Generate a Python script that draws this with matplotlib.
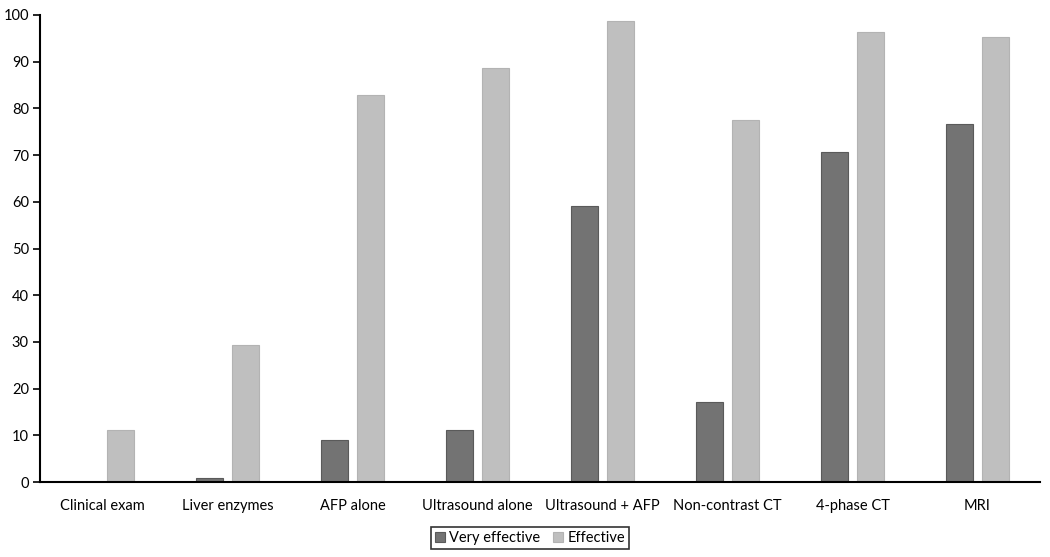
import matplotlib
matplotlib.use("Agg")
import matplotlib.pyplot as plt
import numpy as np

plt.rcParams['font.family'] = ['Lato', 'DejaVu Sans']

categories = ["Clinical exam", "Liver enzymes", "AFP alone", "Ultrasound alone",
              "Ultrasound + AFP", "Non-contrast CT", "4-phase CT", "MRI"]
very_effective = [0, 0.9, 8.9, 11.1, 59.0, 17.2, 70.7, 76.6]
effective = [11.1, 29.3, 82.8, 88.6, 98.8, 77.5, 96.4, 95.2]
series_names = ["Very effective", "Effective"]

fig = plt.figure(figsize=(10.5, 5.57), dpi=100)
ax = fig.add_axes([40/1050, 1 - 482/557, 1000/1050, 467/557])

x = np.arange(len(categories))
w = 0.22
off = 0.143
ax.bar(x - off, very_effective, w, color="#737373", edgecolor="#5a5a5a", linewidth=0.8,
       label=series_names[0], zorder=2)
ax.bar(x + off, effective, w, color="#bfbfbf", edgecolor="#b3b3b3", linewidth=0.8,
       label=series_names[1], zorder=2)

ax.set_xlim(-0.5, len(categories) - 0.5)
ax.set_ylim(0, 100)
ax.set_yticks(np.arange(0, 101, 10))
ax.set_xticks(x)
ax.set_xticklabels(categories)
ax.spines['top'].set_visible(False)
ax.spines['right'].set_visible(False)
for s in ['left', 'bottom']:
    ax.spines[s].set_linewidth(1.5)
    ax.spines[s].set_color('black')
    ax.spines[s].set_zorder(3)
ax.tick_params(axis='x', length=0, pad=12, labelsize=10.5)
ax.tick_params(axis='y', length=5, width=1.2, direction='out', labelsize=10.5, pad=3)

leg = ax.legend(loc='center', bbox_to_anchor=(530/1050, 1 - 538/557),
                bbox_transform=fig.transFigure, ncol=2, frameon=True, fancybox=False,
                fontsize=10.5, handlelength=0.65, handleheight=0.65, handletextpad=0.3,
                columnspacing=0.9, borderpad=0.3, borderaxespad=0)
leg.get_frame().set_edgecolor('black')
leg.get_frame().set_linewidth(1.2)

fig.savefig("out.png", dpi=100)
